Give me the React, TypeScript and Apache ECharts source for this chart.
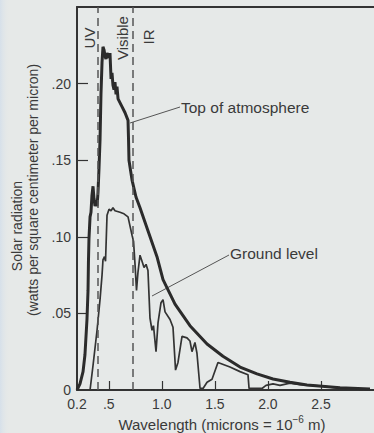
import React, { useEffect, useRef } from "react";
import * as echarts from "echarts";

// Top of atmosphere spectrum (wavelength in microns, watts per cm² per micron)
const toaWavelength = [0.2, 0.228, 0.257, 0.275, 0.294, 0.304, 0.308, 0.313, 0.323, 0.332, 0.341, 0.351, 0.36, 0.37, 0.379, 0.389, 0.398, 0.407, 0.417, 0.426, 0.436, 0.445, 0.455, 0.464, 0.473, 0.483, 0.492, 0.502, 0.511, 0.521, 0.53, 0.539, 0.549, 0.558, 0.568, 0.577, 0.587, 0.624, 0.653, 0.681, 0.686, 0.69, 0.719, 0.756, 0.794, 0.869, 0.954, 1.011, 1.124, 1.265, 1.426, 1.576, 1.737, 1.897, 2.048, 2.208, 2.368, 2.68, 2.962];
const toaRadiation = [0, 0.004, 0.012, 0.023, 0.046, 0.065, 0.084, 0.099, 0.113, 0.116, 0.127, 0.133, 0.125, 0.12, 0.124, 0.12, 0.129, 0.144, 0.163, 0.193, 0.214, 0.224, 0.222, 0.218, 0.216, 0.22, 0.218, 0.217, 0.22, 0.203, 0.207, 0.199, 0.196, 0.201, 0.193, 0.198, 0.19, 0.185, 0.181, 0.176, 0.163, 0.15, 0.137, 0.126, 0.119, 0.104, 0.087, 0.072, 0.056, 0.042, 0.03, 0.022, 0.015, 0.0105, 0.0072, 0.005, 0.0032, 0.0014, 0.0007];

// Ground level spectrum
const groundWavelength = [0.323, 0.351, 0.389, 0.417, 0.436, 0.445, 0.459, 0.469, 0.483, 0.502, 0.521, 0.539, 0.558, 0.605, 0.643, 0.681, 0.7, 0.719, 0.733, 0.747, 0.761, 0.775, 0.794, 0.813, 0.832, 0.851, 0.869, 0.888, 0.907, 0.921, 0.945, 0.964, 0.992, 1.011, 1.03, 1.077, 1.105, 1.129, 1.152, 1.19, 1.237, 1.265, 1.284, 1.312, 1.331, 1.36, 1.388, 1.426, 1.473, 1.529, 1.642, 1.737, 1.812, 1.822, 1.944, 1.982, 2.048, 2.114, 2.208, 2.302, 2.397, 2.519, 2.68, 2.962];
const groundRadiation = [0, 0.016, 0.039, 0.059, 0.075, 0.085, 0.087, 0.084, 0.114, 0.118, 0.117, 0.119, 0.117, 0.116, 0.115, 0.113, 0.107, 0.101, 0.097, 0.082, 0.065, 0.077, 0.088, 0.084, 0.08, 0.082, 0.078, 0.047, 0.039, 0.042, 0.025, 0.044, 0.057, 0.059, 0.051, 0.046, 0.041, 0.013, 0.018, 0.035, 0.034, 0.032, 0.025, 0.031, 0.024, 0.001, 0.001, 0.005, 0.007, 0.018, 0.015, 0.012, 0.01, 0.001, 0.001, 0.003, 0.004, 0.003, 0.0045, 0.0035, 0.003, 0.0025, 0.001, 0.0003];

const xTickValues = [0.2, 0.5, 1.0, 1.5, 2.0, 2.5];
const xTickLabels = ["0.2", ".5", "1.0", "1.5", "2.0", "2.5"];
const yTickValues = [0, 0.05, 0.1, 0.15, 0.2];
const yTickLabels = ["0", ".05", ".10", ".15", ".20"];
const bandEdges = [0.4, 0.73];
const bandNames = ["UV", "Visible", "IR"];

const FONT = "'Liberation Sans', Arial, sans-serif";
const INK = "#333";
const TXT = "#3a3a3a";

function pick(values: number[], labels: string[], v: number) {
  const i = values.findIndex((t) => Math.abs(t - v) < 1e-6);
  return i >= 0 ? labels[i] : "";
}

export default function App() {
  const ref = useRef<HTMLDivElement>(null);
  useEffect(() => {
    if (!ref.current) return;
    const chart = echarts.init(ref.current, undefined, { renderer: "svg" });
    const toa = toaWavelength.map((w, i) => [w, toaRadiation[i]]);
    const ground = groundWavelength.map((w, i) => [w, groundRadiation[i]]);
    const rotText = (text: string, x: number, y: number, size = 14) => ({
      type: "text",
      x,
      y,
      rotation: Math.PI / 2,
      style: { text, fill: TXT, font: `${size}px ${FONT}`, align: "center", verticalAlign: "middle" },
    });
    chart.setOption({
      animation: false,
      backgroundColor: "#e6e9e8",
      textStyle: { fontFamily: FONT },
      grid: { left: 77, right: 0, top: 7, bottom: 43, containLabel: false },
      xAxis: [
        {
          type: "value",
          min: 0.2,
          max: 3.0,
          splitLine: { show: false },
          axisLine: { show: true, onZero: false, lineStyle: { color: INK, width: 2 } },
          axisTick: { show: true, inside: true, length: 9, customValues: xTickValues.slice(1), lineStyle: { color: INK, width: 1.2 } },
          axisLabel: {
            customValues: xTickValues,
            formatter: (v: number) => pick(xTickValues, xTickLabels, v),
            color: TXT,
            fontSize: 14,
            fontFamily: FONT,
            margin: 7,
          },
        },
        {
          type: "value",
          position: "top",
          min: 0.2,
          max: 3.0,
          splitLine: { show: false },
          axisLine: { show: true, onZero: false, lineStyle: { color: INK, width: 2 } },
          axisTick: { show: false },
          axisLabel: { show: false },
        },
      ],
      yAxis: {
        type: "value",
        min: 0,
        max: 0.25,
        splitLine: { show: false },
        axisLine: { show: true, onZero: false, lineStyle: { color: INK, width: 2 } },
        axisTick: { show: true, inside: true, length: 11, customValues: yTickValues.slice(1), lineStyle: { color: INK, width: 1.2 } },
        axisLabel: {
          customValues: yTickValues,
          formatter: (v: number) => pick(yTickValues, yTickLabels, v),
          color: TXT,
          fontSize: 14,
          fontFamily: FONT,
          margin: 6,
        },
      },
      series: [
        {
          name: "Ground level",
          type: "line",
          data: ground,
          showSymbol: false,
          symbol: "none",
          lineStyle: { color: INK, width: 1.7 },
          z: 3,
        },
        {
          name: "Top of atmosphere",
          type: "line",
          data: toa,
          showSymbol: false,
          symbol: "none",
          lineStyle: { color: "#2b2b2b", width: 3 },
          z: 4,
          markLine: {
            silent: true,
            symbol: "none",
            label: { show: false },
            lineStyle: { color: "#555", width: 1.5, type: [8, 5] },
            data: bandEdges.map((e) => ({ xAxis: e })),
          },
        },
      ],
      graphic: [
        { type: "rect", left: 0, top: 0, shape: { width: 10, height: 433 }, style: { fill: { type: "linear", x: 0, y: 0, x2: 1, y2: 0, colorStops: [{ offset: 0, color: "#d6e0ea" }, { offset: 1, color: "rgba(230,233,232,0)" }] } }, silent: true, z: -1 },
        rotText(bandNames[0], 89, 38, 15),
        rotText(bandNames[1], 122, 38, 15),
        rotText(bandNames[2], 148, 37, 15),
        rotText("Solar radiation", 17, 226),
        rotText("(watts per square centimeter per micron)", 33, 190),
        { type: "line", shape: { x1: 130, y1: 123, x2: 180, y2: 107 }, style: { stroke: "#555", lineWidth: 1 } },
        { type: "text", x: 181, y: 107, style: { text: "Top of atmosphere", fill: TXT, font: `15.5px ${FONT}`, align: "left", verticalAlign: "middle" } },
        { type: "line", shape: { x1: 152, y1: 296, x2: 229, y2: 255 }, style: { stroke: "#555", lineWidth: 1 } },
        { type: "text", x: 230, y: 253, style: { text: "Ground level", fill: TXT, font: `15.5px ${FONT}`, align: "left", verticalAlign: "middle" } },
        {
          type: "text",
          x: 222,
          y: 423,
          style: {
            text: "{a|Wavelength (microns = 10}{s|−6}{a| m)}",
            align: "center",
            verticalAlign: "middle",
            fill: TXT,
            rich: {
              a: { fontSize: 15, fontFamily: FONT, fill: TXT, lineHeight: 18, verticalAlign: "bottom" },
              s: { fontSize: 10, fontFamily: FONT, fill: TXT, lineHeight: 18, verticalAlign: "top" },
            },
          },
        },
      ],
    });
    return () => chart.dispose();
  }, []);
  return <div ref={ref} style={{ position: "fixed", left: 0, top: 0, width: 374, height: 433 }} />;
}
